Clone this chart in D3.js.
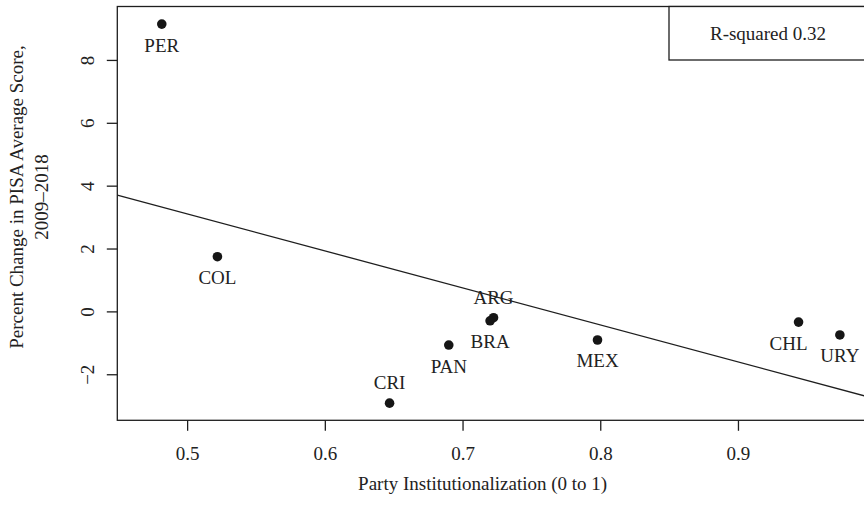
<!DOCTYPE html>
<html>
<head>
<meta charset="utf-8">
<script src="https://cdn.jsdelivr.net/npm/d3@7"></script>
<style>
  html, body { margin: 0; padding: 0; background: #fff; }
  svg { display: block; }
  text { font-family: "Liberation Serif", "DejaVu Serif", serif; fill: #222; }
</style>
</head>
<body>
<svg id="chart" width="864" height="506"></svg>
<script>
// Country codes, party institutionalization scores and PISA change (%)
const countries = ["PER", "COL", "CRI", "PAN", "ARG", "BRA", "MEX", "CHL", "URY"];
const institutionalization = [0.4816, 0.522, 0.647, 0.690, 0.7225, 0.720, 0.798, 0.944, 0.974];
const pisaChange = [9.14, 1.74, -2.92, -1.07, -0.20, -0.30, -0.91, -0.34, -0.75];
const labelAbove = ["ARG", "CRI"];

const xTicks = [0.5, 0.6, 0.7, 0.8, 0.9];
const yTicks = [-2, 0, 2, 4, 6, 8];
const xDomain = [0.4493, 0.9937];
const yDomain = [-3.465, 9.70];

const xTitle = "Party Institutionalization (0 to 1)";
const yTitle = ["Percent Change in PISA Average Score,", "2009\u20132018"];

const W = 864, H = 506;
const margin = { left: 117.3, top: 6.5, right: 867, bottom: 420.3 };
const fontSize = 19;
const ink = "#1e1e1e";

const svg = d3.select("#chart");

const x = d3.scaleLinear().domain(xDomain).range([margin.left, margin.right]);
const y = d3.scaleLinear().domain(yDomain).range([margin.bottom, margin.top]);

const data = countries.map((c, i) => ({ c, x: institutionalization[i], y: pisaChange[i] }));

// Ordinary least squares fit and R-squared
const mx = d3.mean(data, d => d.x), my = d3.mean(data, d => d.y);
const sxy = d3.sum(data, d => (d.x - mx) * (d.y - my));
const sxx = d3.sum(data, d => (d.x - mx) ** 2);
const syy = d3.sum(data, d => (d.y - my) ** 2);
const slope = sxy / sxx;
const intercept = my - slope * mx;
const r2 = (sxy * sxy) / (sxx * syy);

const clip = svg.append("defs").append("clipPath").attr("id", "plotclip")
  .append("rect")
  .attr("x", margin.left).attr("y", margin.top)
  .attr("width", margin.right - margin.left).attr("height", margin.bottom - margin.top);

// Plot frame
svg.append("rect")
  .attr("x", margin.left).attr("y", margin.top)
  .attr("width", margin.right - margin.left).attr("height", margin.bottom - margin.top)
  .attr("fill", "none").attr("stroke", ink).attr("stroke-width", 1.3);

// X axis
const xAxis = svg.append("g")
  .attr("transform", `translate(0,${margin.bottom})`)
  .call(d3.axisBottom(x).tickValues(xTicks).tickSize(10.5).tickPadding(0).tickFormat(d3.format(".1f")));
xAxis.select(".domain").remove();
xAxis.selectAll(".tick line").attr("stroke", ink).attr("stroke-width", 1.3);
xAxis.selectAll(".tick text")
  .attr("y", 33).attr("dy", "0.35em")
  .style("font-size", fontSize + "px").attr("fill", "#222");

// Y axis, labels parallel to the axis
const yAxis = svg.append("g")
  .attr("transform", `translate(${margin.left},0)`)
  .call(d3.axisLeft(y).tickValues(yTicks).tickSize(10.5).tickFormat(d => d < 0 ? "\u2212" + Math.abs(d) : d));
yAxis.select(".domain").remove();
yAxis.selectAll(".tick line").attr("stroke", ink).attr("stroke-width", 1.3);
yAxis.selectAll(".tick text")
  .attr("x", null).attr("dy", null)
  .attr("transform", "translate(-30,0) rotate(-90)")
  .attr("text-anchor", "middle")
  .attr("dominant-baseline", "central")
  .style("font-size", fontSize + "px").attr("fill", "#222");

// Regression line
svg.append("line")
  .attr("clip-path", "url(#plotclip)")
  .attr("x1", x(xDomain[0])).attr("y1", y(intercept + slope * xDomain[0]))
  .attr("x2", x(xDomain[1])).attr("y2", y(intercept + slope * xDomain[1]))
  .attr("stroke", ink).attr("stroke-width", 1.3);

// Points
svg.append("g").selectAll("circle").data(data).join("circle")
  .attr("cx", d => x(d.x)).attr("cy", d => y(d.y)).attr("r", 4.8)
  .attr("fill", "#161616");

// Country labels
const labelNudge = { CHL: -10 };
svg.append("g").selectAll("text").data(data).join("text")
  .attr("x", d => x(d.x) + (labelNudge[d.c] || 0))
  .attr("y", d => y(d.y) + (labelAbove.includes(d.c) ? -20.5 : 21))
  .attr("text-anchor", "middle")
  .attr("dominant-baseline", "central")
  .style("font-size", fontSize + "px")
  .text(d => d.c);

// R-squared legend box
const legX = 669, legBottom = 60;
svg.append("rect")
  .attr("x", legX).attr("y", margin.top)
  .attr("width", margin.right - legX).attr("height", legBottom - margin.top)
  .attr("fill", "#fff").attr("stroke", ink).attr("stroke-width", 1.3);
svg.append("text")
  .attr("x", (legX + margin.right) / 2).attr("y", (margin.top + legBottom) / 2)
  .attr("text-anchor", "middle").attr("dominant-baseline", "central")
  .style("font-size", fontSize + "px")
  .text("R-squared " + r2.toFixed(2));

// Axis titles
svg.append("text")
  .attr("x", (margin.left + 864 + 0) / 2 - 8).attr("y", 483)
  .attr("text-anchor", "middle").attr("dominant-baseline", "central")
  .style("font-size", fontSize + "px")
  .text(xTitle);

const yTitleCenter = 197;
svg.append("g")
  .selectAll("text").data(yTitle).join("text")
  .attr("transform", (d, i) => `translate(${i === 0 ? 16 : 41.7},${yTitleCenter}) rotate(-90)`)
  .attr("text-anchor", "middle").attr("dominant-baseline", "central")
  .style("font-size", fontSize + "px")
  .text(d => d);
</script>
</body>
</html>
